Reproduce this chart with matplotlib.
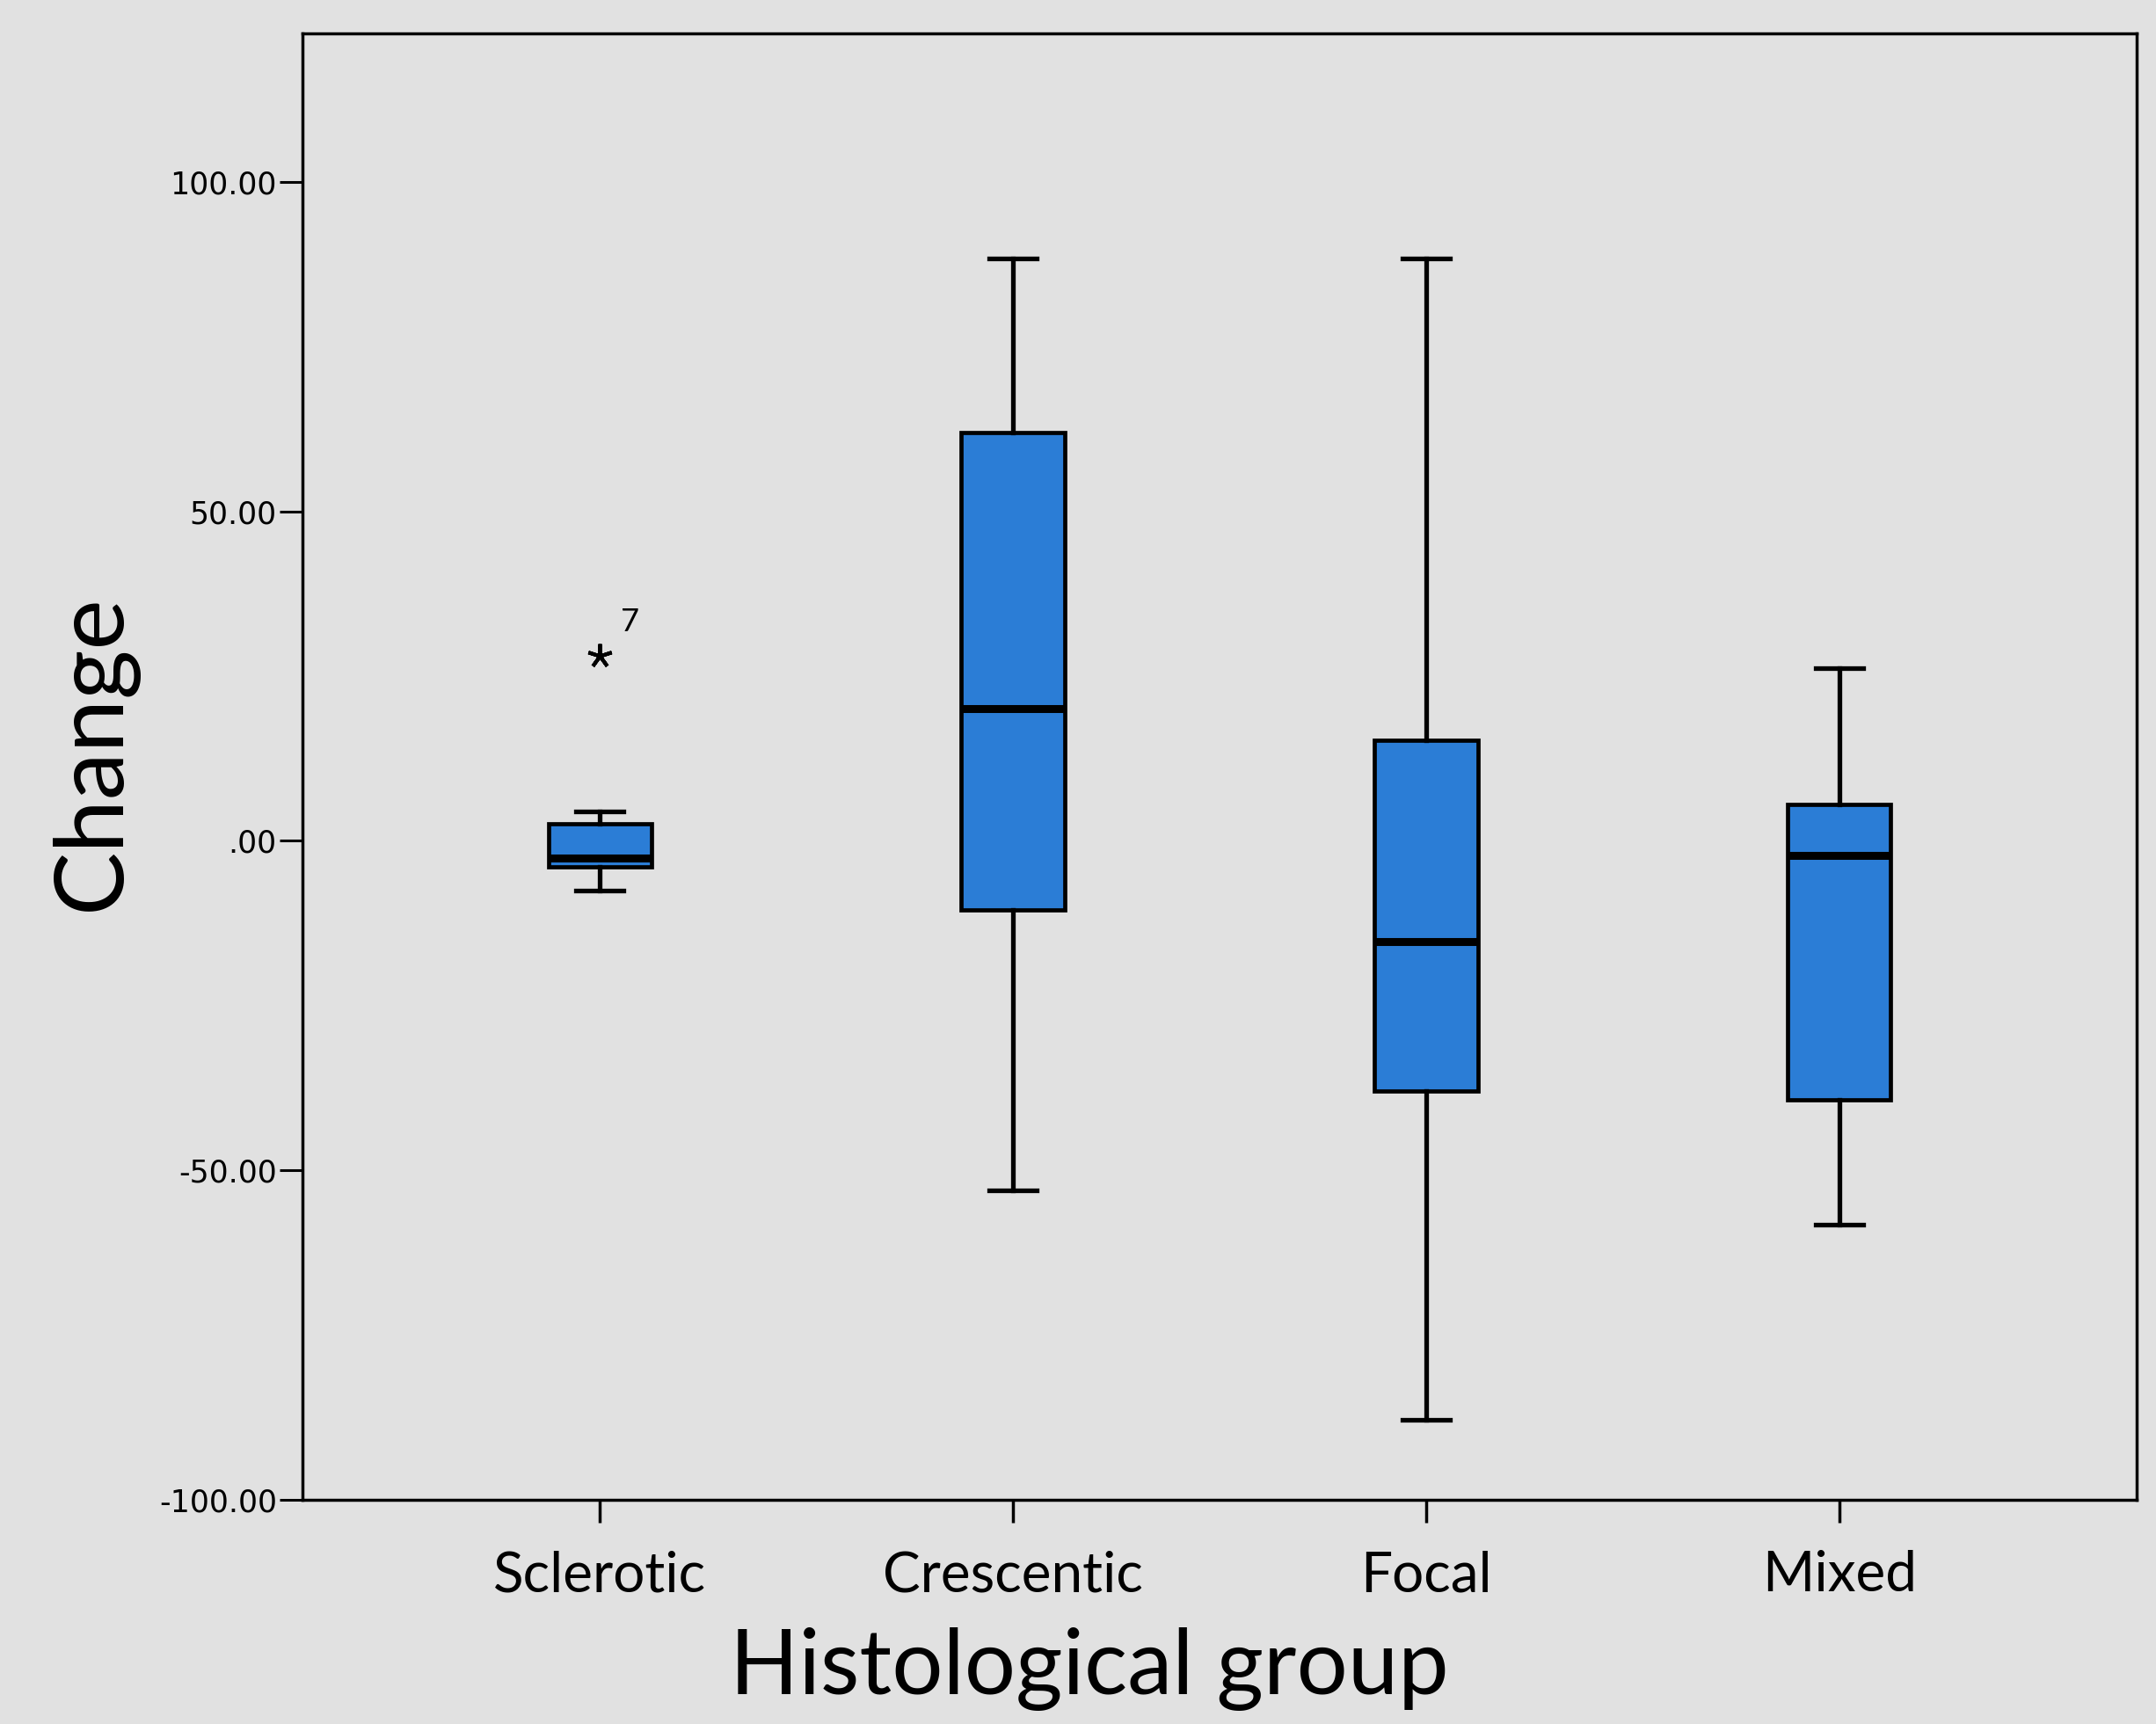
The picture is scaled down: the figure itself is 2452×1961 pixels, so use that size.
import matplotlib.pyplot as plt

# values
groups = ['Sclerotic', 'Crescentic', 'Focal', 'Mixed']
whisker_low = [-7.6, -53.0, -87.9, -58.3]
q1 = [-3.9, -10.5, -38.0, -39.3]
medians = [-2.6, 20.1, -15.3, -2.2]
q3 = [2.6, 62.0, 15.3, 5.5]
whisker_high = [4.5, 88.3, 88.3, 26.2]
outlier_vals = [[28.0], [], [], []]
outlier_ids = [['7'], [], [], []]

yticks = [-100, -50, 0, 50, 100]
ytick_labels = ['-100.00', '-50.00', '.00', '50.00', '100.00']

bg = '#e1e1e1'
blue = '#2b7dd6'

fig = plt.figure(figsize=(24.52, 19.61), dpi=100, facecolor=bg)
ax = fig.add_axes([0.1403, 0.130, 0.8507, 0.8506])
ax.set_facecolor(bg)

stats = []
for i in range(len(groups)):
    stats.append({'whislo': whisker_low[i], 'q1': q1[i], 'med': medians[i],
                  'q3': q3[i], 'whishi': whisker_high[i], 'fliers': []})

pos = list(range(1, len(groups) + 1))
ax.bxp(stats, positions=pos, widths=0.25, patch_artist=True,
       showfliers=False,
       boxprops=dict(facecolor=blue, edgecolor='black', linewidth=3.4),
       medianprops=dict(color='black', linewidth=6.5),
       whiskerprops=dict(color='black', linewidth=3.8),
       capprops=dict(color='black', linewidth=3.8),
       capwidths=0.115)

# outliers drawn as asterisks with case labels
for i, (vals, ids) in enumerate(zip(outlier_vals, outlier_ids)):
    for v, lab in zip(vals, ids):
        ax.plot(pos[i], v, marker=(5, 2, 0), color='black', markersize=20,
                markeredgewidth=3)
        ax.text(pos[i] + 0.05, v + 3, lab, fontsize=26, family='Lato',
                ha='left', va='bottom')

ax.set_xlim(0.28, 4.72)
ax.set_ylim(-100, 122.5)
ax.set_yticks(yticks)
ax.set_yticklabels(ytick_labels, fontsize=25, family='Liberation Sans Narrow')
ax.set_xticks(pos)
ax.set_xticklabels(groups, fontsize=46, family='Lato')

ax.tick_params(axis='y', direction='out', length=19, width=2.2, pad=2)
ax.tick_params(axis='x', direction='out', length=19, width=2.5, pad=22)
ax.tick_params(top=False, right=False)
for s in ax.spines.values():
    s.set_linewidth(2.5)
    s.set_color('black')

ax.set_xlabel('Histological group', fontsize=74, family='Lato')
ax.xaxis.set_label_coords(0.429, -0.087)
ax.set_ylabel('Change', fontsize=78, family='Lato')
ax.yaxis.set_label_coords(-0.09, 0.51)

fig.savefig('out.png', dpi=100, facecolor=bg)
